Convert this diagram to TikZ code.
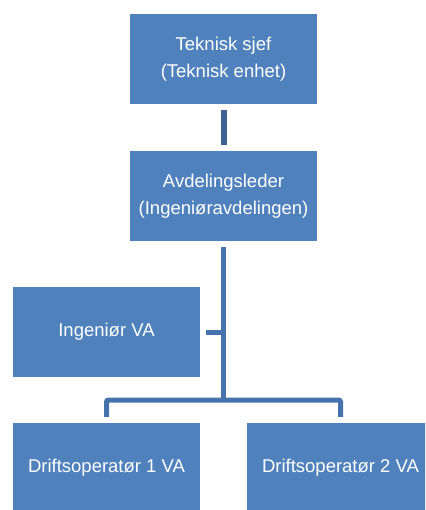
\documentclass[tikz,border=0pt]{standalone}
\usepackage{fontspec}
\setmainfont{Liberation Sans}
\usepackage{tikz}
\definecolor{boksblaa}{HTML}{4F81BD}
\definecolor{linjeblaa}{HTML}{4673AB}
\definecolor{toppblaa}{HTML}{3C6491}
\begin{document}
\begin{tikzpicture}[x=1pt,y=-1pt,
    boks/.style={fill=boksblaa, text=white, minimum width=187pt, minimum height=90pt,
      inner sep=0pt, align=center, font=\fontsize{18.5}{27}\selectfont},
    linje/.style={draw=linjeblaa, line width=5pt}]
    \useasboundingbox (0,0) rectangle (425,510);
    \clip (0,0) rectangle (425,510);
    \node[boks] (teknisk) at (223.5, 59) {Teknisk sjef\\(Teknisk enhet)};
    \node[boks] (avdeling) at (223.5, 196) {Avdelingsleder\\(Ingeniøravdelingen)};
    \node[boks] (ingenior) at (106.5, 332) {Ingeniør VA};
    \node[boks] (drift1) at (106.5, 468) {Driftsoperatør 1 VA};
    \node[boks] (drift2) at (340.5, 468) {Driftsoperatør 2 VA};
    \coordinate (knute) at (223.5, 400);
    \draw[line width=6pt, draw=toppblaa] ([yshift=-6pt]teknisk.south) -- ([yshift=6pt]avdeling.north);
    \draw[linje] ([yshift=-6pt]avdeling.south) -- (knute);
    \draw[linje] ([xshift=6pt]ingenior.east) -- (ingenior.east -| knute);
    \draw[linje, rounded corners=2pt] ([yshift=6pt]drift1.north) |- (knute) -| ([yshift=6pt]drift2.north);
  \end{tikzpicture}
\end{document}
